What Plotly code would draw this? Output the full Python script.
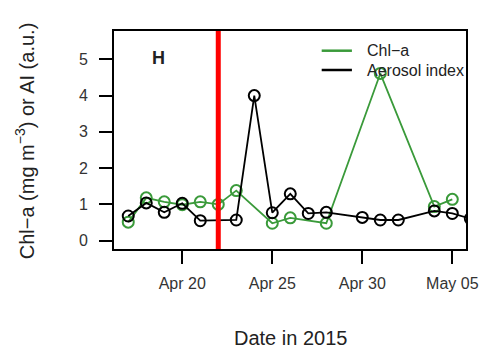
import plotly.graph_objects as go

# Daily observations, April-May 2015
chl_dates = ["2015-04-17", "2015-04-18", "2015-04-19", "2015-04-20", "2015-04-21",
             "2015-04-22", "2015-04-23", "2015-04-25", "2015-04-26", "2015-04-28",
             "2015-05-01", "2015-05-04", "2015-05-05"]
chl_values = [0.51, 1.18, 1.07, 0.99, 1.07, 1.00, 1.38, 0.48, 0.63, 0.48,
              4.61, 0.94, 1.14]

ai_dates = ["2015-04-17", "2015-04-18", "2015-04-19", "2015-04-20", "2015-04-21",
            "2015-04-23", "2015-04-24", "2015-04-25", "2015-04-26", "2015-04-27",
            "2015-04-28", "2015-04-30", "2015-05-01", "2015-05-02", "2015-05-04",
            "2015-05-05", "2015-05-06"]
ai_values = [0.68, 1.04, 0.78, 1.03, 0.55, 0.57, 4.00, 0.77, 1.29, 0.75,
             0.78, 0.64, 0.57, 0.57, 0.82, 0.75, 0.61]

event_date = "2015-04-22"
tick_dates = ["2015-04-20", "2015-04-25", "2015-04-30", "2015-05-05"]
tick_labels = ["Apr 20", "Apr 25", "Apr 30", "May 05"]
y_ticks = [0, 1, 2, 3, 4, 5]

series_names = ["Chl\u2212a", "Aerosol index"]

GREEN = "#3a9a3a"
TEXT = "#222222"
FONT = "Liberation Sans, Arial, sans-serif"

# plot area in pixels, used to place paper-referenced decorations
W, H = 490, 352
ML, MR, MT, MB = 114, 15, 31, 103
PW, PH = W - ML - MR, H - MT - MB


def px(x):
    return (x - ML) / PW


def py(y):
    return (H - MB - y) / PH


fig = go.Figure()

fig.add_trace(go.Scatter(
    x=chl_dates, y=chl_values, mode="lines+markers", name=series_names[0],
    showlegend=False,
    line=dict(color=GREEN, width=1.8),
    marker=dict(symbol="circle-open", size=11, color=GREEN, line=dict(width=2)),
))
fig.add_trace(go.Scatter(
    x=ai_dates, y=ai_values, mode="lines+markers", name=series_names[1],
    showlegend=False,
    line=dict(color="black", width=1.8),
    marker=dict(symbol="circle-open", size=11, color="black", line=dict(width=2)),
))

# event marker
fig.add_shape(type="line", xref="x", yref="paper", x0=event_date, x1=event_date,
              y0=0, y1=1, line=dict(color="#ff0000", width=5), layer="above")

# legend keys (line only) drawn inside the panel
annotations = []
for name, color, ly in [(series_names[0], GREEN, 50.7), (series_names[1], "black", 70)]:
    fig.add_shape(type="line", xref="paper", yref="paper",
                  x0=px(327), x1=px(358), y0=py(ly), y1=py(ly),
                  line=dict(color=color, width=2.5), layer="above")
    annotations.append(dict(text=name, xref="paper", yref="paper",
                            x=px(371), y=py(ly), xanchor="left", yanchor="middle",
                            showarrow=False, font=dict(size=16, color=TEXT)))

annotations += [
    dict(text="<b>H</b>", xref="paper", yref="paper",
         x=px(160), y=py(58), xanchor="center", yanchor="middle",
         showarrow=False, font=dict(size=18, color=TEXT)),
    dict(text="Date in 2015", xref="paper", yref="paper",
         x=px(294.5), y=py(338), xanchor="center", yanchor="middle",
         showarrow=False, font=dict(size=20, color=TEXT)),
    dict(text="Chl\u2212a (mg m<sup>\u22123</sup>) or AI (a.u.)",
         xref="paper", yref="paper",
         x=px(22), y=py(141), xanchor="center", yanchor="middle",
         textangle=-90, showarrow=False, font=dict(size=20, color=TEXT)),
]

fig.update_layout(
    width=W, height=H,
    margin=dict(l=ML, r=MR, t=MT, b=MB),
    plot_bgcolor="white", paper_bgcolor="white",
    font=dict(family=FONT, color="#333333", size=16),
    showlegend=False,
    xaxis=dict(
        type="date",
        range=["2015-04-16 05:00", "2015-05-05 18:15"],
        tickvals=tick_dates, ticktext=tick_labels,
        tickfont=dict(size=16, color="#333333"),
        showgrid=False, zeroline=False,
        showline=True, mirror=True, linecolor="black", linewidth=2,
        ticks="outside", ticklen=13, tickwidth=2, tickcolor="black",
        ticklabelstandoff=6,
    ),
    yaxis=dict(
        range=[-0.23, 5.78],
        tickvals=y_ticks,
        tickfont=dict(size=16, color="#333333"),
        showgrid=False, zeroline=False,
        showline=True, mirror=True, linecolor="black", linewidth=2,
        ticks="outside", ticklen=13, tickwidth=2, tickcolor="black",
        ticklabelstandoff=8,
    ),
    annotations=annotations,
)

fig.write_html("out.html")
